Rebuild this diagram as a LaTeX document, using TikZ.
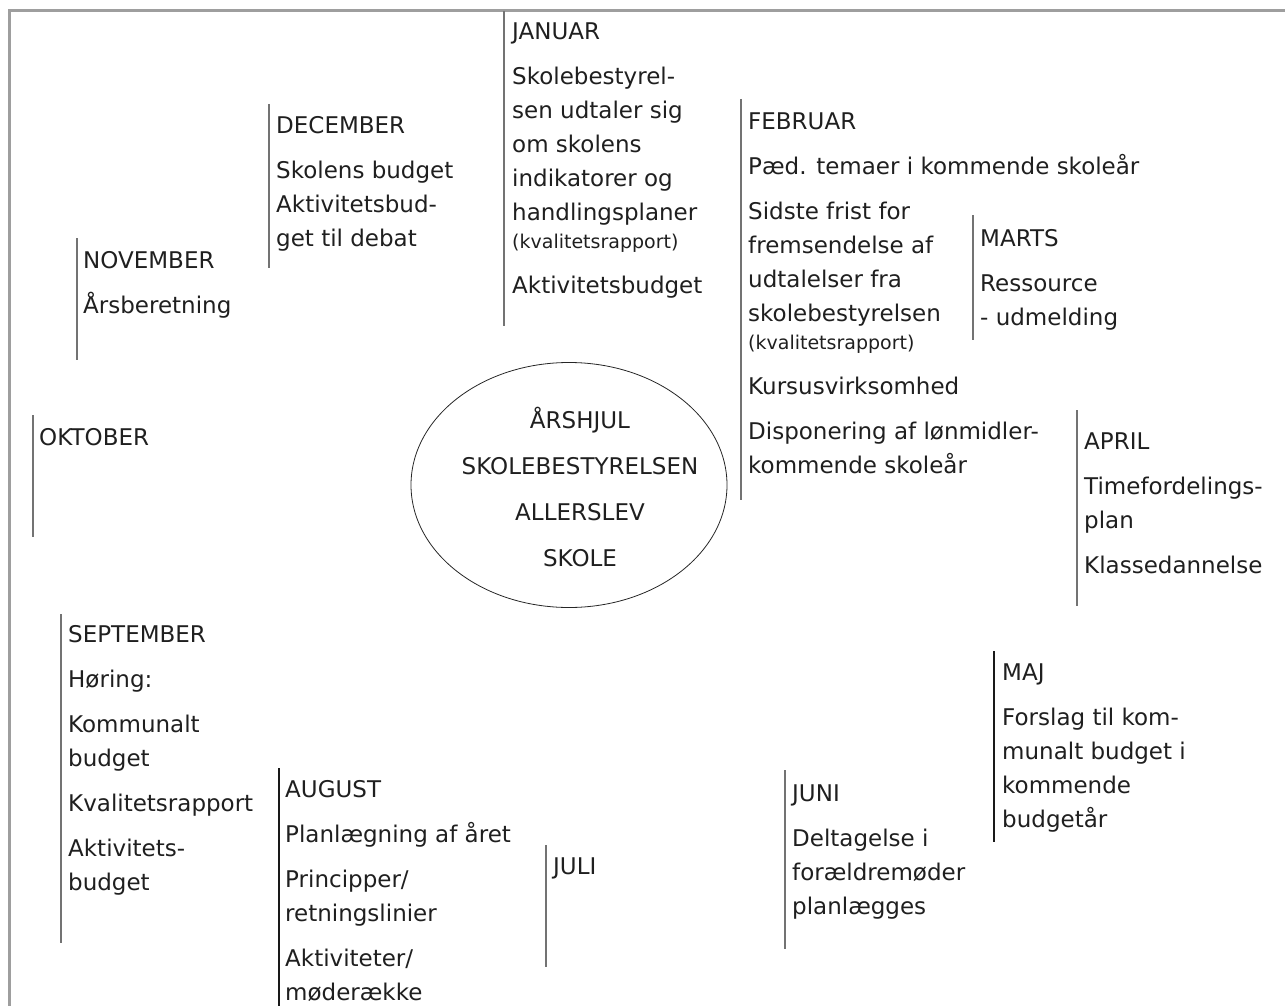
\documentclass[tikz,border=0pt]{standalone}
\usepackage{fontspec}
\setmainfont{DejaVu Sans}
\usepackage{tikz}
\usetikzlibrary{shapes.geometric}

\newcommand{\kvalrap}{{\fontsize{19}{20}\selectfont (kvalitetsrapport)}}
\tikzset{
  maaned/.style={anchor=north west, align=left, inner sep=0pt, text=black!88,
    font=\fontsize{23}{34}\selectfont},
  streg/.style={draw=black!55, line width=1.3pt},
  morkstreg/.style={draw=black!90, line width=1.6pt},
  ramme/.style={draw=black!38, line width=3pt}
}

\begin{document}
\begin{tikzpicture}[x=1pt,y=-1pt]
        \useasboundingbox (0,0) rectangle (1285,1006);
        \draw[ramme] (9,1006) -- (9,11) -- (1285,11);

        % hjulet i midten
        \node[ellipse, draw=black!85, thick, minimum width=316pt, minimum height=245pt] (hjul) at (569,485) {};
        \node[align=center, inner sep=0pt, text=black!88, font=\fontsize{23}{34}\selectfont] (titel) at (580,487)
            {ÅRSHJUL\\[12pt] SKOLEBESTYRELSEN\\[12pt] ALLERSLEV\\[12pt] SKOLE};

        % maanederne
        \draw[streg] (504,11) -- (504,326);
        \node[maaned] (jan) at (512,22.7) {JANUAR\\[11pt] Skolebestyrel-\\ sen udtaler sig\\ om skolens\\ indikatorer og\\ handlingsplaner\\[-6pt] \kvalrap\\[11pt] Aktivitetsbudget};

        \draw[streg] (741,99) -- (741,500);
        \node[maaned] (feb) at (748,112.7) {FEBRUAR\\[11pt] Pæd. temaer i kommende skoleår\\[11pt] Sidste frist for\\ fremsendelse af\\ udtalelser fra\\ skolebestyrelsen\\[-6pt] \kvalrap\\[11pt] Kursusvirksomhed\\[11pt] Disponering af lønmidler-\\ kommende skoleår};

        \draw[streg] (973,215) -- (973,340);
        \node[maaned] (mar) at (980,229.7) {MARTS\\[11pt] Ressource\\ - udmelding};

        \draw[streg] (1077,410) -- (1077,606);
        \node[maaned] (apr) at (1084,432.7) {APRIL\\[11pt] Timefordelings-\\ plan\\[11pt] Klassedannelse};

        \draw[morkstreg] (994,651) -- (994,842);
        \node[maaned] (maj) at (1002,663.7) {MAJ\\[11pt] Forslag til kom-\\ munalt budget i\\ kommende\\ budgetår};

        \draw[streg] (785,770) -- (785,949);
        \node[maaned] (jun) at (792,784.7) {JUNI\\[11pt] Deltagelse i\\ forældremøder\\ planlægges};

        \draw[streg] (546,845) -- (546,967);
        \node[maaned] (jul) at (553,857.7) {JULI};

        \draw[morkstreg] (279,768) -- (279,1006);
        \node[maaned] (aug) at (285,780.7) {AUGUST\\[11pt] Planlægning af året\\[11pt] Principper/\\ retningslinier\\[11pt] Aktiviteter/\\ møderække};

        \draw[streg] (61,614) -- (61,943);
        \node[maaned] (sep) at (68,625.7) {SEPTEMBER\\[11pt] Høring:\\[11pt] Kommunalt\\ budget\\[11pt] Kvalitetsrapport\\[11pt] Aktivitets-\\ budget};

        \draw[streg] (33,415) -- (33,537);
        \node[maaned] (okt) at (39,428.7) {OKTOBER};

        \draw[streg] (77,238) -- (77,360);
        \node[maaned] (nov) at (83,251.7) {NOVEMBER\\[11pt] Årsberetning};

        \draw[streg] (269,104) -- (269,268);
        \node[maaned] (dec) at (276,116.7) {DECEMBER\\[11pt] Skolens budget\\ Aktivitetsbud-\\ get til debat};
    \end{tikzpicture}
\end{document}
